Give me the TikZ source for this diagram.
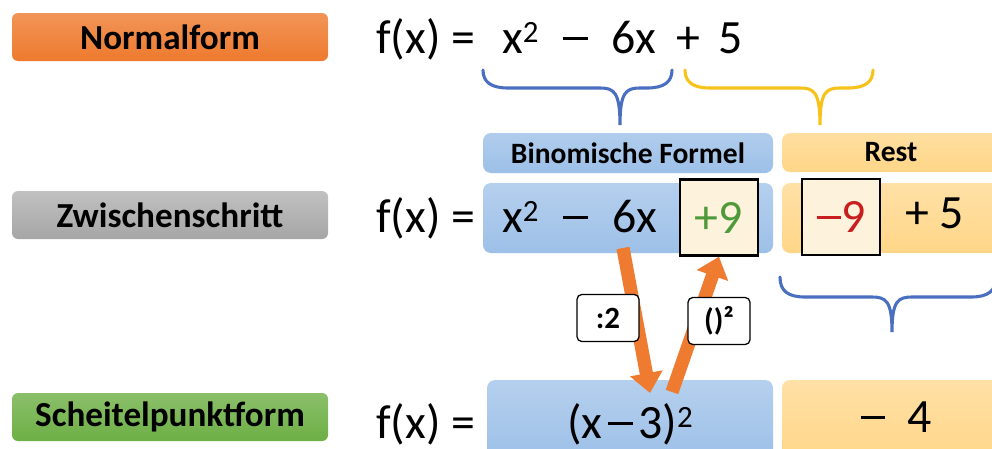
\documentclass[tikz,border=0pt]{standalone}
\usepackage{fontspec}
\setmainfont{Carlito}
\usetikzlibrary{arrows.meta}

\definecolor{normalorange}{HTML}{EE7A2E}
\definecolor{stepgray}{HTML}{A6A6A6}
\definecolor{vertexgreen}{HTML}{6DAF45}
\definecolor{fieldblue}{HTML}{9DC0E8}
\definecolor{fieldorange}{HTML}{FFD688}
\definecolor{cream}{HTML}{FDF2DC}
\definecolor{braceblue}{HTML}{4A6FC0}
\definecolor{braceyellow}{HTML}{F7C21A}
\definecolor{arroworange}{HTML}{EE7B30}
\definecolor{plusgreen}{HTML}{4E9A3A}
\definecolor{minusred}{HTML}{C81E1E}

\newcommand{\pw}{0.025cm}
\newcommand{\sqtwo}{\raisebox{7.8pt}{\fontsize{22}{22}\selectfont 2}}
\newcommand{\mns}{\rule[9.5pt]{17.5pt}{2.2pt}}

\begin{document}
\begin{tikzpicture}
		[
			x=0.025cm,
			y=-0.025cm,
			formlabel/.style={rounded corners=0.15cm, inner sep=0pt, minimum width={316*\pw}, minimum height={48*\pw}, font=\fontsize{25}{30}\selectfont\bfseries},
			term/.style={inner sep=0pt, anchor=base west, font=\fontsize{34}{40}\selectfont},
			fieldbox/.style={rounded corners=0.2cm, inner sep=0pt},
			squarebox/.style={draw=black, line width=1.6pt, fill=cream, inner sep=0pt, minimum width={78*\pw}, minimum height={76*\pw}, font=\fontsize{34}{40}\selectfont},
			opbox/.style={draw=black, line width=0.9pt, fill=white, rounded corners=0.12cm, inner sep=0pt, minimum width={62*\pw}, minimum height={47*\pw}, font=\fontsize{22}{26}\selectfont\bfseries},
			bigarrow/.style={draw=arroworange, line width=0.33cm, -{Triangle[width=0.8cm, length=0.5cm]}},
			brace/.style={line width=2.2pt, line cap=round}
		]
		\useasboundingbox (0,0) rectangle (992,448);
		\clip (0,0) rectangle (992,448);
		% Row labels
		\node[formlabel, top color=normalorange!80, bottom color=normalorange] (normal) at (170,37) {Normalform};
		\node[formlabel, top color=stepgray!70, bottom color=stepgray] (zwischen) at (170,215) {Zwischenschritt};
		\node[formlabel, top color=vertexgreen!80, bottom color=vertexgreen] (scheitel) at (170,417) {Scheitelpunktform};
		% Normal form
		\node[term] (fa) at (376,53) {f(x) =};
		\node[term] (xsqa) at (502,53) {x\sqtwo};
		\node[term] (mina) at (563,53) {\mns};
		\node[term] (sixa) at (611,53) {6x};
		\node[term] (plusa) at (676,53) {+};
		\node[term] (fivea) at (718,53) {5};
		% Braces
		\foreach \xa/\xt/\xb/\yt/\ym/\yb/\col in {483/620/672/70/88/125/braceblue, 685/820/873/70/88/125/braceyellow, 780/892/996/277/297/332/braceblue} {
				\draw[brace, draw=\col]
				(\xa,\yt) .. controls (\xa,{\ym-6}) and ({\xa+8},\ym) .. ({\xa+25},\ym)
				-- ({\xt-20},\ym) .. controls ({\xt-6},\ym) and (\xt,{\ym+4}) .. (\xt,\yb)
				.. controls (\xt,{\ym+4}) and ({\xt+6},\ym) .. ({\xt+20},\ym)
				-- ({\xb-25},\ym) .. controls ({\xb-8},\ym) and (\xb,{\ym-6}) .. (\xb,\yt);
			}
		% Headers
		\node[fieldbox, top color=fieldblue!80, bottom color=fieldblue, minimum width={290*\pw}, minimum height={40*\pw}, font=\fontsize{21}{25}\selectfont\bfseries] (binom) at (628,153) {Binomische Formel};
		\node[fieldbox, top color=fieldorange!80, bottom color=fieldorange, minimum width={218*\pw}, minimum height={39*\pw}] (rest) at (891,152.5) {};
		\node[font=\fontsize{21}{25}\selectfont\bfseries] (resttext) at (891,152.5) {Rest};
		% Intermediate step
		\node[fieldbox, top color=fieldblue!75, bottom color=fieldblue, minimum width={290*\pw}, minimum height={70*\pw}] (blueb) at (628,218) {};
		\node[fieldbox, top color=fieldorange!75, bottom color=fieldorange, minimum width={218*\pw}, minimum height={70*\pw}] (orangeb) at (891,218) {};
		\node[term] (fb) at (376,232) {f(x) =};
		\node[term] (xsqb) at (502,232) {x\sqtwo};
		\node[term] (minb) at (563,232) {\mns};
		\node[term] (sixb) at (612,232) {6x};
		\node[squarebox, text=plusgreen] (plusnine) at (719,217.5) {+9};
		\node[squarebox, text=minusred] (minusnine) at (841,217) {\mns 9};
		\node[term] (fiveb) at (905,228) {+ 5};
		% Vertex form
		\node[fieldbox, top color=fieldblue!75, bottom color=fieldblue, minimum width={286*\pw}, minimum height={80*\pw}] (bluec) at (630,420) {};
		\node[fieldbox, top color=fieldorange!75, bottom color=fieldorange, minimum width={218*\pw}, minimum height={80*\pw}] (orangec) at (891,420) {};
		\node[term] (fc) at (376,438) {f(x) =};
		\node[term, anchor=base] (square) at (630,438) {(x\hspace{4pt}\mns\hspace{4pt}3)\sqtwo};
		\node[term, anchor=base] (four) at (896,432) {\mns\ \ 4};
		% Arrows
		\coordinate (halfstart) at (623,248);
		\coordinate (halfend) at (650,393);
		\coordinate (sqstart) at (672,392);
		\draw[bigarrow] (halfstart) -- (halfend);
		\draw[bigarrow] (sqstart) -- (plusnine.south);
		\node[opbox] (half) at (608,318) {:2};
		\node[opbox] (sq) at (719,321) {()²};
\end{tikzpicture}
\end{document}
